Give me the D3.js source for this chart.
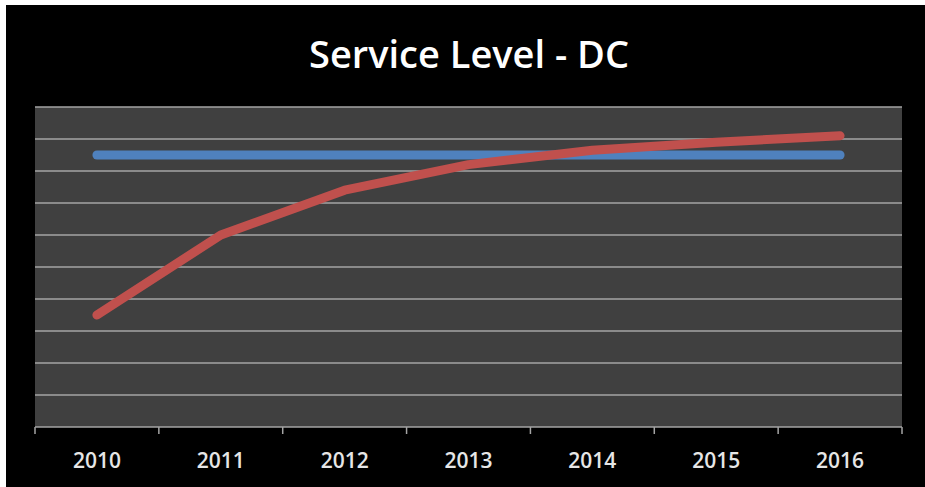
<!DOCTYPE html>
<html>
<head>
<meta charset="utf-8">
<script src="https://cdn.jsdelivr.net/npm/d3@7"></script>
<style>
  body { margin: 0; background: #fff; }
</style>
</head>
<body>
<div id="chart"></div>
<script>
// data
var years = ["2010", "2011", "2012", "2013", "2014", "2015", "2016"];
var actual = [35, 60, 74, 82, 86.5, 89, 91];
var target = [85, 85, 85, 85, 85, 85, 85];
var yTicks = [0, 10, 20, 30, 40, 50, 60, 70, 80, 90, 100];

var W = 925, H = 487;
var margin = {top: 107, right: 23, bottom: 60, left: 35},
  width = W - margin.left - margin.right,
  height = H - margin.top - margin.bottom;

var svg = d3.select("#chart")
  .append("svg")
  .attr("width", W)
  .attr("height", H);

// black frame
svg.append("rect")
  .attr("x", 6).attr("y", 5)
  .attr("width", W - 6).attr("height", H - 5)
  .attr("fill", "#000");

svg.append("text")
  .attr("x", 469)
  .attr("y", 68)
  .attr("text-anchor", "middle")
  .style("font-family", "'Open Sans', sans-serif")
  .style("font-weight", "600")
  .style("font-size", "38px")
  .style("fill", "#fff")
  .text("Service Level - DC");

var g = svg.append("g")
  .attr("transform", "translate(" + margin.left + "," + margin.top + ")");

var x = d3.scaleBand()
  .domain(years)
  .range([0, width]);

var y = d3.scaleLinear()
  .domain([0, 100])
  .range([height, 0]);

// plot background
g.append("rect")
  .attr("width", width)
  .attr("height", height)
  .attr("fill", "#404040");

// gridlines
g.append("g")
  .selectAll("line")
  .data(yTicks.slice(1))
  .enter().append("line")
  .attr("x1", 0).attr("x2", width)
  .attr("y1", function(d) { return y(d); })
  .attr("y2", function(d) { return y(d); })
  .attr("stroke", "#a5a5a5")
  .attr("stroke-width", 1.5);

// x axis with ticks on band boundaries
var xAxis = g.append("g")
  .attr("transform", "translate(0," + height + ")");
xAxis.append("line")
  .attr("x1", 0).attr("x2", width)
  .attr("stroke", "#a5a5a5")
  .attr("stroke-width", 1.5);
var bounds = years.map(function(d) { return x(d); }).concat([width]);
xAxis.selectAll(".tk")
  .data(bounds)
  .enter().append("line")
  .attr("class", "tk")
  .attr("x1", function(d) { return d; })
  .attr("x2", function(d) { return d; })
  .attr("y1", 0).attr("y2", 7)
  .attr("stroke", "#a5a5a5")
  .attr("stroke-width", 1.5);
xAxis.selectAll(".lbl")
  .data(years)
  .enter().append("text")
  .attr("class", "lbl")
  .attr("x", function(d) { return x(d) + x.bandwidth() / 2; })
  .attr("y", 41)
  .attr("text-anchor", "middle")
  .style("font-family", "'Open Sans', sans-serif")
  .style("font-weight", "600")
  .style("font-size", "21px")
  .style("fill", "#e6e6e6")
  .text(function(d) { return d; });

var line = d3.line()
  .x(function(d, i) { return x(years[i]) + x.bandwidth() / 2; })
  .y(function(d) { return y(d); });

g.append("path")
  .datum(target)
  .attr("d", line)
  .attr("fill", "none")
  .attr("stroke", "#4f81bd")
  .attr("stroke-width", 9)
  .attr("stroke-linecap", "round");

g.append("path")
  .datum(actual)
  .attr("d", line)
  .attr("fill", "none")
  .attr("stroke", "#c0504d")
  .attr("stroke-width", 9)
  .attr("stroke-linecap", "round")
  .attr("stroke-linejoin", "round");
</script>
</body>
</html>
